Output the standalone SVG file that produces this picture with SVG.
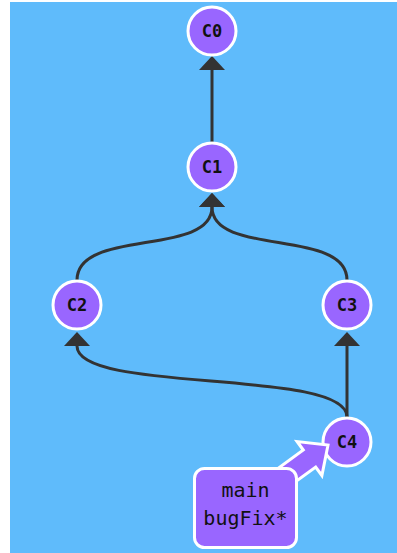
<svg xmlns="http://www.w3.org/2000/svg" width="397" height="553" viewBox="0 0 397 553">
  <style>
    .edge { fill: none; stroke: #333333; stroke-width: 3; }
    .commit circle { fill: #9966ff; stroke: #ffffff; stroke-width: 3; }
    .commit text { font-family: "DejaVu Sans Mono", "Liberation Mono", monospace; font-size: 17px; font-weight: bold; fill: #111111; text-anchor: middle; }
    .branch rect, .branch polygon { fill: #9966ff; stroke: #ffffff; stroke-width: 3; }
    .branch text { font-family: "DejaVu Sans Mono", "Liberation Mono", monospace; font-size: 20px; fill: #111111; text-anchor: middle; }
  </style>
  <defs>
    <marker id="head" viewBox="0 0 14 26" refX="0" refY="13" markerWidth="14" markerHeight="26" markerUnits="userSpaceOnUse" orient="auto">
      <path d="M0,0 L14,13 L0,26 Z" fill="#333333"/>
    </marker>
  </defs>
  <rect x="10" y="2" width="387" height="551" fill="#5fbbfb"/>
  <g id="connectors">
    <path class="edge" d="M212,142 L212,70" marker-end="url(#head)"/>
    <path class="edge" d="M77,280 C77,228 212,257 212,207" marker-end="url(#head)"/>
    <path class="edge" d="M347,280 C347,228 212,257 212,207" marker-end="url(#head)"/>
    <path class="edge" d="M347,417 C347,368 77,394 77,346" marker-end="url(#head)"/>
    <path class="edge" d="M347,417 L347,346" marker-end="url(#head)"/>
  </g>
  <g id="C0" class="commit"><circle cx="212" cy="31" r="24"/><text x="212" y="37">C0</text></g>
  <g id="C1" class="commit"><circle cx="212" cy="167" r="24"/><text x="212" y="173">C1</text></g>
  <g id="C2" class="commit"><circle cx="77" cy="305" r="24"/><text x="77" y="311">C2</text></g>
  <g id="C3" class="commit"><circle cx="347" cy="305" r="24"/><text x="347" y="311">C3</text></g>
  <g id="C4" class="commit"><circle cx="347" cy="442" r="24"/><text x="347" y="448">C4</text></g>
  <g id="branch-main" class="branch">
    <polygon points="275.2,496.5 262.8,479.5 303.3,450.0 297.1,441.5 328,445 321.9,475.5 315.7,467.0"/>
    <rect x="194.5" y="468.5" width="102" height="79" rx="10" ry="10"/>
    <text x="245.5" y="497">main</text>
    <text x="245.5" y="525">bugFix*</text>
  </g>
</svg>
